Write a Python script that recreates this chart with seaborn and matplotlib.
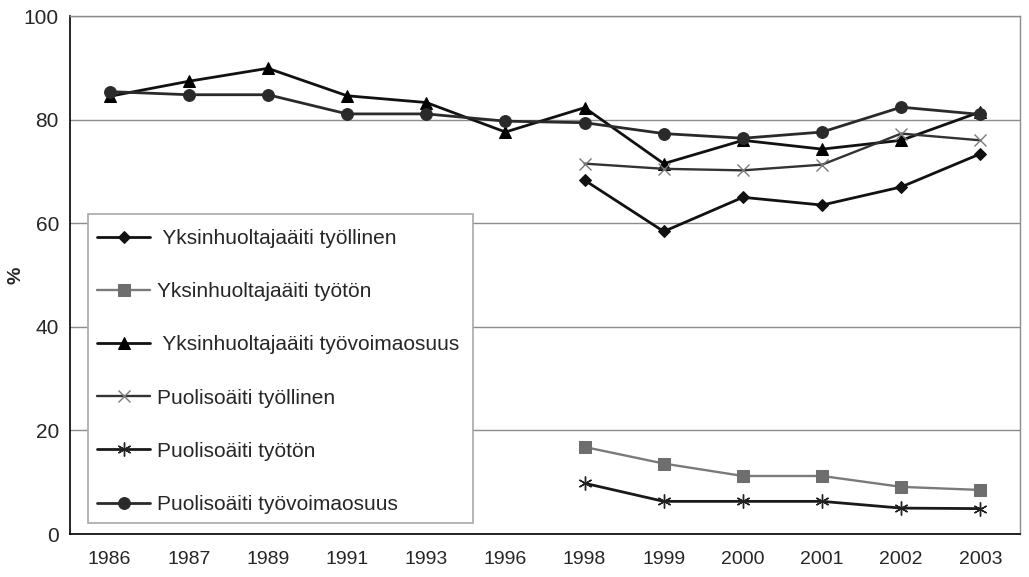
import numpy as np
import pandas as pd
import matplotlib
matplotlib.use("Agg")
import matplotlib.pyplot as plt
from matplotlib.patches import Rectangle
import seaborn as sns

# ==========================================
# DATA
# ==========================================

years = ["1986", "1987", "1989", "1991", "1993", "1996",
         "1998", "1999", "2000", "2001", "2002", "2003"]

nan = np.nan
yh_tyollinen = [nan, nan, nan, nan, nan, nan, 68.3, 58.4, 65.0, 63.5, 67.0, 73.4]
yh_tyoton = [nan, nan, nan, nan, nan, nan, 16.8, 13.6, 11.2, 11.2, 9.1, 8.5]
yh_tyovoima = [84.5, 87.4, 89.9, 84.6, 83.3, 77.6, 82.3, 71.5, 76.0, 74.3, 76.0, 81.5]
pu_tyollinen = [nan, nan, nan, nan, nan, nan, 71.5, 70.5, 70.2, 71.3, 77.3, 76.0]
pu_tyoton = [nan, nan, nan, nan, nan, nan, 9.8, 6.3, 6.3, 6.3, 5.0, 4.9]
pu_tyovoima = [85.4, 84.8, 84.8, 81.1, 81.1, 79.7, 79.4, 77.3, 76.4, 77.6, 82.4, 81.0]

labels = [
    " Yksinhuoltajaäiti työllinen",
    "Yksinhuoltajaäiti työtön",
    " Yksinhuoltajaäiti työvoimaosuus",
    "Puolisoäiti työllinen",
    "Puolisoäiti työtön",
    "Puolisoäiti työvoimaosuus",
]

series = [yh_tyollinen, yh_tyoton, yh_tyovoima, pu_tyollinen, pu_tyoton, pu_tyovoima]

# style per series
styles = [
    dict(color="#111111", marker="D", markersize=6.5, markerfacecolor="#111111",
         markeredgecolor="#111111", linewidth=2.0),
    dict(color="#7a7a7a", marker="s", markersize=8, markerfacecolor="#6e6e6e",
         markeredgecolor="#6e6e6e", linewidth=1.7),
    dict(color="#111111", marker="^", markersize=9, markerfacecolor="#000000",
         markeredgecolor="#000000", linewidth=2.0),
    dict(color="#333333", marker="x", markersize=9, markerfacecolor="none",
         markeredgecolor="#7a7a7a", markeredgewidth=1.0, linewidth=1.7),
    dict(color="#1a1a1a", marker=(6, 2, 0), markersize=10, markerfacecolor="none",
         markeredgecolor="#222222", markeredgewidth=1.0, linewidth=2.0),
    dict(color="#2a2a2a", marker="o", markersize=8.5, markerfacecolor="#2a2a2a",
         markeredgecolor="#2a2a2a", linewidth=2.0),
]

# ==========================================
# PLOT
# ==========================================

sns.set_style("white")
plt.rcParams["font.family"] = ["Liberation Sans", "DejaVu Sans"]

fig = plt.figure(figsize=(10.29, 5.77), dpi=100)
ax = fig.add_axes([70 / 1029, 1 - 534 / 577, 950 / 1029, 518 / 577])

x = np.arange(len(years))

for vals, lab, st in zip(series, labels, styles):
    df = pd.DataFrame({"x": x, "y": vals}).dropna()
    sns.lineplot(data=df, x="x", y="y", ax=ax, label=lab, **st)

ax.set_xlim(-0.5, len(years) - 0.5)
ax.set_ylim(0, 100)
ax.set_yticks([0, 20, 40, 60, 80, 100])
ax.set_xticks(x)
ax.set_xticklabels(years)
ax.set_xticks(np.arange(-0.5, len(years)), minor=True)
ax.tick_params(axis="x", which="major", length=0, pad=12, labelsize=14)
ax.tick_params(axis="x", which="minor", length=6, width=1, color="black", direction="out")
ax.tick_params(axis="y", length=6, width=1, color="black", direction="out", labelsize=15, pad=2)

ax.yaxis.grid(True, color="#8c8c8c", linewidth=1)
ax.xaxis.grid(False)
ax.set_axisbelow(True)

ax.set_xlabel("")
ax.set_ylabel("%", fontsize=14, fontweight="bold")
ax.yaxis.set_label_coords(-46 / 950, 0.5)

for side in ["left", "bottom"]:
    ax.spines[side].set_color("black")
    ax.spines[side].set_linewidth(1.2)
for side in ["top", "right"]:
    ax.spines[side].set_color("#8c8c8c")
    ax.spines[side].set_linewidth(1)

# legend box (opaque, drawn over the grid)
box = Rectangle((18 / 950, 11 / 518), 385 / 950, 309 / 518, transform=ax.transAxes,
                facecolor="white", edgecolor="#a8a8a8", linewidth=1.2, zorder=4)
ax.add_patch(box)

leg = ax.legend(
    loc="upper left",
    bbox_to_anchor=(27 / 950, 305 / 518),
    borderaxespad=0,
    borderpad=0,
    fontsize=15,
    frameon=False,
    handlelength=2.55,
    handletextpad=0.34,
    labelspacing=1.64,
)
leg.set_zorder(5)

plt.savefig("out.png", dpi=100)
